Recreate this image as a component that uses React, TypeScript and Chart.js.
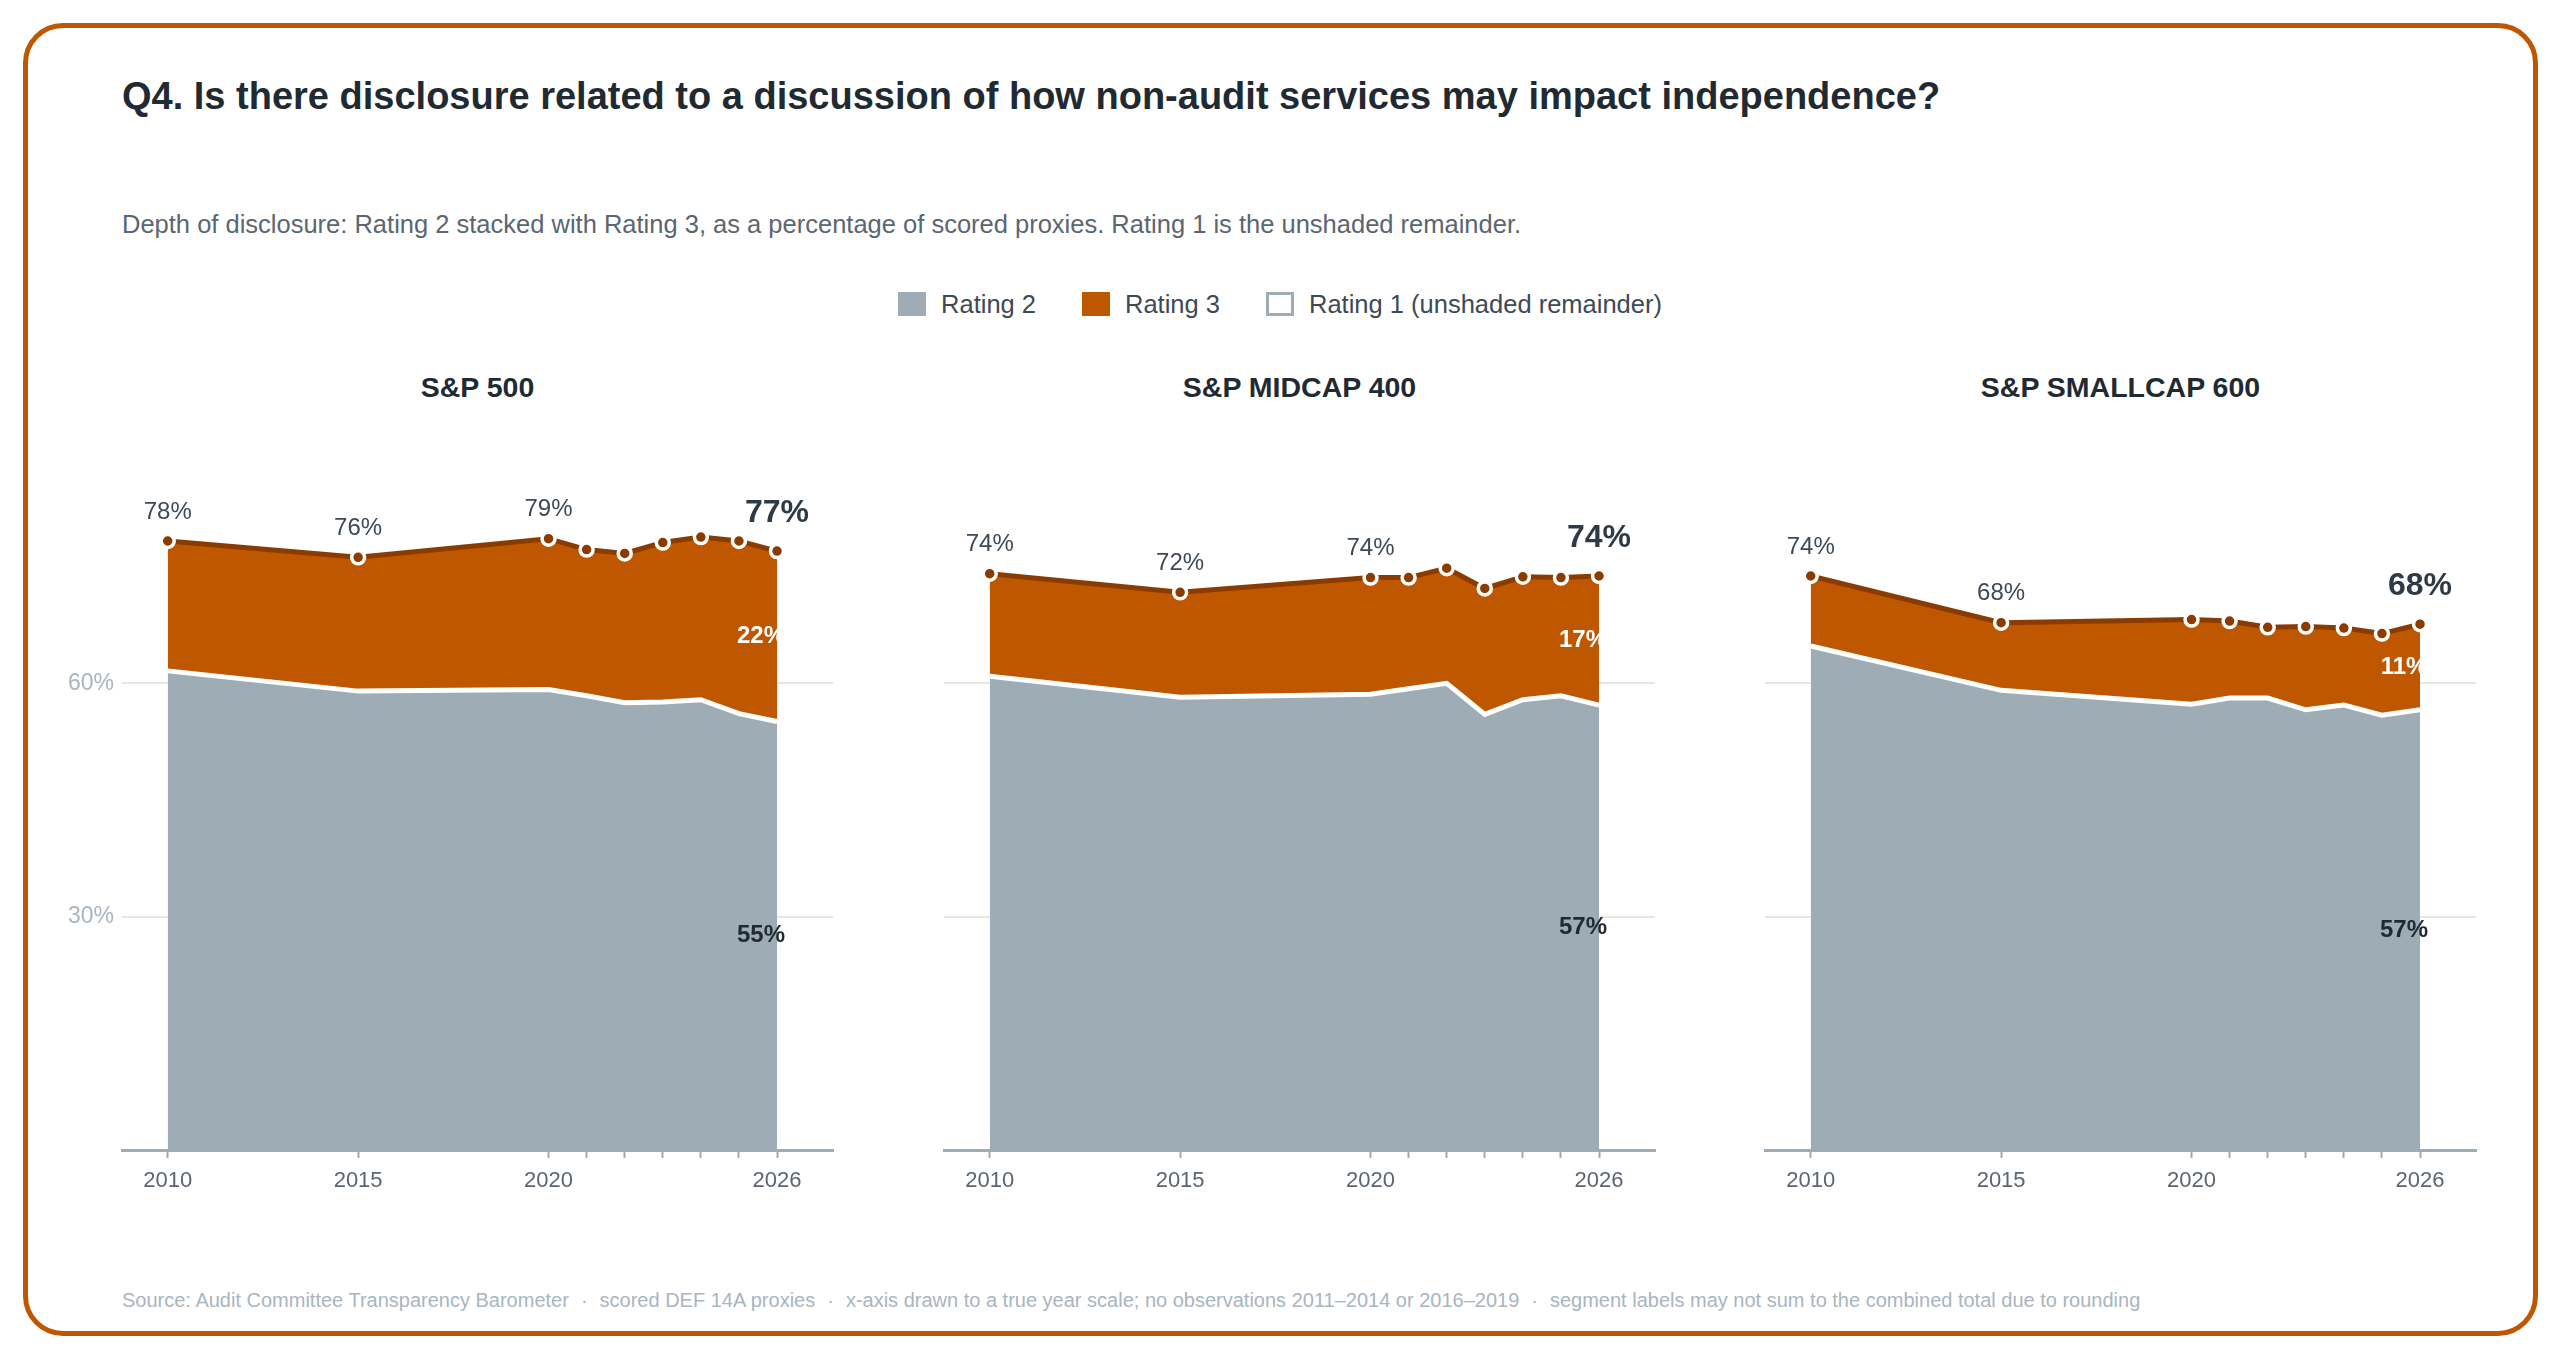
import React, { useEffect, useRef } from 'react';
import { Chart, registerables } from 'chart.js';

Chart.register(...registerables);

const FONT = '"Liberation Sans", Arial, Helvetica, sans-serif';

// ---- data ----
const YEARS = [2010, 2015, 2020, 2021, 2022, 2023, 2024, 2025, 2026];
const X_TICK_LABELS = [2010, 2015, 2020, 2026];
const Y_TICKS = [0, 30, 60];
const PANEL_TITLES = ['S&P 500', 'S&P MIDCAP 400', 'S&P SMALLCAP 600'];

const SP500_RATING2 = [61.6, 59.0, 59.2, 58.4, 57.5, 57.6, 57.9, 56.1, 55.1];
const SP500_RATING3 = [16.7, 17.2, 19.4, 18.8, 19.2, 20.5, 20.9, 22.2, 21.9];
const SP500_LABELED = [2010, 2015, 2020, 2026];

const MIDCAP_RATING2 = [60.9, 58.2, 58.6, 59.3, 60.0, 56.0, 57.9, 58.4, 57.2];
const MIDCAP_RATING3 = [13.2, 13.5, 15.0, 14.3, 14.8, 16.2, 15.8, 15.2, 16.6];
const MIDCAP_LABELED = [2010, 2015, 2020, 2026];

const SMALLCAP_RATING2 = [64.8, 59.1, 57.3, 58.1, 58.1, 56.6, 57.2, 55.9, 56.6];
const SMALLCAP_RATING3 = [9.0, 8.7, 10.9, 9.9, 9.1, 10.7, 9.9, 10.5, 11.0];
const SMALLCAP_LABELED = [2010, 2015, 2026];

const LEGEND_LABELS = ['Rating 2', 'Rating 3', 'Rating 1 (unshaded remainder)'];

// ---- styles ----
const C_GRAY = '#9dacb5';
const C_ORANGE = '#bf5700';
const C_DARK = '#8a3b00';
const C_TEXT = '#1f2a33';
const C_MUTED = '#5b6670';
const C_LIGHT = '#a9b5bf';

const PANELS = [
  { title: PANEL_TITLES[0], r2: SP500_RATING2, r3: SP500_RATING3, labeled: SP500_LABELED, areaLeft: 122, showY: true },
  { title: PANEL_TITLES[1], r2: MIDCAP_RATING2, r3: MIDCAP_RATING3, labeled: MIDCAP_LABELED, areaLeft: 944, showY: false },
  { title: PANEL_TITLES[2], r2: SMALLCAP_RATING2, r3: SMALLCAP_RATING3, labeled: SMALLCAP_LABELED, areaLeft: 1765, showY: false },
];

const AREA_W = 711;
const Y_AXIS_W = 80;
const RIGHT_OVERFLOW = 10; // Chart.js reserves room for point overflow on the right
const CANVAS_W = Y_AXIS_W + AREA_W + RIGHT_OVERFLOW;
const CANVAS_TOP = 440;
const CANVAS_H = 770;

function zeroPadding(s: any) {
  s.paddingLeft = 0;
  s.paddingRight = 0;
  s.paddingTop = 0;
  s.paddingBottom = 0;
}

function makeLabelPlugin(p: any) {
  return {
    id: 'valueLabels',
    afterDatasetsDraw(chart: any) {
      const ctx = chart.ctx;
      const xs = chart.scales.x;
      const ys = chart.scales.y;
      const last = YEARS.length - 1;
      ctx.save();
      ctx.textAlign = 'center';
      ctx.textBaseline = 'middle';
      YEARS.forEach((yr, i) => {
        if (!p.labeled.includes(yr)) return;
        const total = p.r2[i] + p.r3[i];
        const px = xs.getPixelForValue(yr);
        const py = ys.getPixelForValue(total);
        if (i === last) {
          ctx.font = `bold 32px ${FONT}`;
          ctx.fillStyle = '#2e3b47';
          ctx.fillText(Math.round(total) + '%', px, py - 38);
        } else {
          ctx.font = `24px ${FONT}`;
          ctx.fillStyle = '#3d4a56';
          ctx.fillText(Math.round(total) + '%', px, py - 29);
        }
      });
      // segment labels at final year
      const lx = xs.getPixelForValue(YEARS[last]) - 16;
      const r2 = p.r2[last];
      const r3 = p.r3[last];
      ctx.font = `bold 24px ${FONT}`;
      ctx.fillStyle = '#ffffff';
      ctx.fillText(Math.round(r3) + '%', lx, ys.getPixelForValue(r2 + r3 / 2));
      ctx.fillStyle = C_TEXT;
      ctx.fillText(Math.round(r2) + '%', lx, ys.getPixelForValue(r2 / 2));
      ctx.restore();
    },
  };
}

function Panel({ p }: { p: any }) {
  const ref = useRef<HTMLCanvasElement>(null);
  useEffect(() => {
    const chart = new Chart(ref.current as HTMLCanvasElement, {
      type: 'line',
      data: {
        datasets: [
          {
            label: 'Rating 2',
            data: YEARS.map((x, i) => ({ x, y: p.r2[i] })),
            fill: 'origin',
            backgroundColor: C_GRAY,
            borderColor: '#ffffff',
            borderWidth: 5,
            pointRadius: 0,
            tension: 0,
          },
          {
            label: 'Rating 3',
            data: YEARS.map((x, i) => ({ x, y: p.r3[i] })),
            fill: '-1',
            backgroundColor: C_ORANGE,
            borderColor: C_DARK,
            borderWidth: 5,
            pointRadius: 6.5,
            pointBackgroundColor: C_DARK,
            pointBorderColor: '#ffffff',
            pointBorderWidth: 3.5,
            tension: 0,
          },
        ],
      },
      options: {
        animation: false,
        responsive: false,
        devicePixelRatio: 1,
        layout: { padding: { top: 10, left: 0, right: 0, bottom: 0 } },
        plugins: { legend: { display: false }, tooltip: { enabled: false } },
        scales: {
          x: {
            type: 'linear',
            min: 2008.8,
            max: 2027.47,
            z: 1,
            afterBuildTicks: (s: any) => {
              s.ticks = YEARS.map((v) => ({ value: v }));
            },
            afterFit: (s: any) => {
              s.height = 60;
              zeroPadding(s);
            },
            ticks: {
              autoSkip: false,
              maxRotation: 0,
              padding: 10,
              color: C_MUTED,
              font: { size: 22, family: FONT },
              callback: (v: any) => (X_TICK_LABELS.includes(Number(v)) ? String(v) : ''),
            },
            grid: { drawOnChartArea: false, drawTicks: true, tickLength: 8, tickColor: C_GRAY, tickWidth: 2 },
            border: { display: true, color: C_GRAY, width: 3 },
          },
          y: {
            type: 'linear',
            stacked: true,
            min: 0,
            max: 90,
            afterBuildTicks: (s: any) => {
              s.ticks = Y_TICKS.map((v) => ({ value: v }));
            },
            afterFit: (s: any) => {
              s.width = Y_AXIS_W;
              zeroPadding(s);
            },
            ticks: {
              display: p.showY,
              padding: 8,
              color: C_LIGHT,
              font: { size: 23, family: FONT },
              callback: (v: any) => (Number(v) === 0 ? '' : v + '%'),
            },
            grid: { color: '#e7e7e2', lineWidth: 2, drawTicks: false },
            border: { display: false },
          },
        },
      },
      plugins: [makeLabelPlugin(p)],
    } as any);
    return () => chart.destroy();
  }, []);
  return (
    <>
      <div
        style={{
          position: 'absolute',
          left: p.areaLeft,
          top: 367,
          width: AREA_W,
          height: 40,
          lineHeight: '40px',
          textAlign: 'center',
          fontWeight: 'bold',
          fontSize: 28.5,
          color: C_TEXT,
        }}
      >
        {p.title}
      </div>
      <canvas
        ref={ref}
        width={CANVAS_W}
        height={CANVAS_H}
        style={{
          position: 'absolute',
          left: p.areaLeft - Y_AXIS_W,
          top: CANVAS_TOP,
          width: CANVAS_W,
          height: CANVAS_H,
        }}
      />
    </>
  );
}

function LegendItem({ label, fill, border }: { label: string; fill: string; border?: string }) {
  return (
    <div style={{ display: 'flex', alignItems: 'center', marginRight: 46 }}>
      <div
        style={{
          width: 28,
          height: 24,
          boxSizing: 'border-box',
          background: fill,
          border: border ? `3px solid ${border}` : 'none',
          marginRight: 15,
        }}
      />
      <span>{label}</span>
    </div>
  );
}

const sep = <span style={{ margin: '0 12px' }}>·</span>;

export default function App() {
  return (
    <div
      style={{
        position: 'fixed',
        left: 0,
        top: 0,
        width: 2560,
        height: 1360,
        background: '#ffffff',
        fontFamily: FONT,
        overflow: 'hidden',
      }}
    >
      <div
        style={{
          position: 'absolute',
          left: 23,
          top: 23,
          width: 2515,
          height: 1313,
          boxSizing: 'border-box',
          border: `5px solid ${C_ORANGE}`,
          borderRadius: 40,
        }}
      />
      <div
        style={{
          position: 'absolute',
          left: 122,
          top: 76,
          height: 40,
          lineHeight: '40px',
          fontSize: 38,
          fontWeight: 'bold',
          color: C_TEXT,
          whiteSpace: 'nowrap',
        }}
      >
        Q4. Is there disclosure related to a discussion of how non-audit services may impact independence?
      </div>
      <div
        style={{
          position: 'absolute',
          left: 122,
          top: 209,
          height: 30,
          lineHeight: '30px',
          fontSize: 25.5,
          color: C_MUTED,
          whiteSpace: 'nowrap',
        }}
      >
        Depth of disclosure: Rating 2 stacked with Rating 3, as a percentage of scored proxies. Rating 1 is the unshaded remainder.
      </div>
      <div
        style={{
          position: 'absolute',
          left: 0,
          top: 289,
          width: 2560,
          height: 30,
          display: 'flex',
          justifyContent: 'center',
          alignItems: 'center',
          fontSize: 25.5,
          color: '#3d4a56',
          paddingLeft: 46,
          boxSizing: 'border-box',
        }}
      >
        <LegendItem label={LEGEND_LABELS[0]} fill={C_GRAY} />
        <LegendItem label={LEGEND_LABELS[1]} fill={C_ORANGE} />
        <LegendItem label={LEGEND_LABELS[2]} fill="#ffffff" border={C_GRAY} />
      </div>
      {PANELS.map((p, i) => (
        <Panel key={i} p={p} />
      ))}
      <div
        style={{
          position: 'absolute',
          left: 122,
          top: 1287,
          height: 26,
          lineHeight: '26px',
          fontSize: 20,
          color: C_LIGHT,
          whiteSpace: 'nowrap',
        }}
      >
        Source: Audit Committee Transparency Barometer{sep}scored DEF 14A proxies{sep}x-axis drawn to a true year scale; no
        observations 2011–2014 or 2016–2019{sep}segment labels may not sum to the combined total due to rounding
      </div>
    </div>
  );
}
